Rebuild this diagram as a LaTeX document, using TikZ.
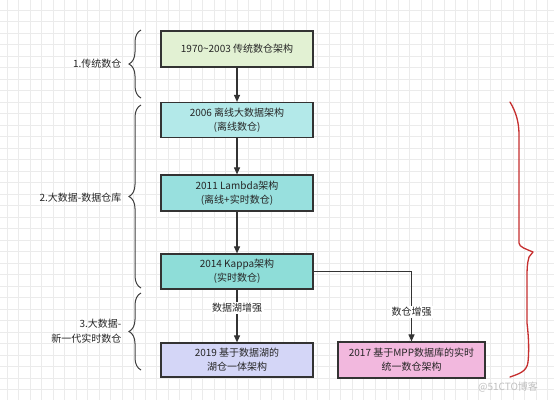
\documentclass[tikz,border=0pt]{standalone}
\usepackage{fontspec}
\setmainfont{Noto Sans CJK SC}
\usetikzlibrary{arrows.meta, decorations.pathreplacing}
\definecolor{gridgray}{HTML}{EBEBEB}
\definecolor{edgegray}{HTML}{333333}
\definecolor{boxgreen}{HTML}{E2F1D3}
\definecolor{boxteal}{HTML}{B3E9E9}
\definecolor{boxcyan}{HTML}{98E0DE}
\definecolor{boxaqua}{HTML}{8EDDD8}
\definecolor{boxlilac}{HTML}{D4D6F7}
\definecolor{boxpink}{HTML}{F2B8DE}
\definecolor{penred}{HTML}{C62F2F}

\begin{document}
\begin{tikzpicture}[x=1pt, y=-1pt,
    stage/.style={draw=edgegray, line width=1.2pt, minimum width=152pt, minimum height=35pt,
        align=center, font=\fontsize{10}{14}\selectfont, text=black!85},
    link/.style={draw=edgegray, line width=1.1pt, -{Triangle[width=6pt, length=7pt]}},
    tag/.style={fill=white, inner sep=1.5pt, font=\fontsize{10}{14}\selectfont, text=black!85},
    era/.style={draw=black!75, line width=1pt, decorate, decoration={brace, amplitude=12pt}},
    eralabel/.style={anchor=east, align=right, font=\fontsize{10}{15}\selectfont, text=black!85}]
    \useasboundingbox (0,0) rectangle (554,400);
    \fill[white] (0,0) rectangle (554,400);
    \foreach \gx in {0,...,47} \draw[gridgray, line width=0.6pt] (7+11.5*\gx,0) -- (7+11.5*\gx,400);
    \foreach \gy in {0,...,34} \draw[gridgray, line width=0.6pt] (0,10+11.5*\gy) -- (554,10+11.5*\gy);

    \node[stage, fill=boxgreen, minimum height=36pt] (0) at (237, 49) {1970\textasciitilde2003 传统数仓架构};
    \node[stage, fill=boxteal] (1) at (237, 120) {2006 离线大数据架构\\(离线数仓)};
    \node[stage, fill=boxcyan, minimum height=36pt] (2) at (237, 193) {2011 Lambda架构\\(离线+实时数仓)};
    \node[stage, fill=boxaqua] (3) at (237, 271.5) {2014 Kappa架构\\(实时数仓)};
    \node[stage, fill=boxlilac, minimum height=34pt] (4) at (237, 360) {2019 基于数据湖的\\湖仓一体架构};
    \node[stage, fill=boxpink, minimum width=147pt, minimum height=36pt] (5) at (411.5, 360) {2017 基于MPP数据库的实时\\统一数仓架构};

    \draw[link] (0) -- (1);
    \draw[link] (1) -- (2);
    \draw[link] (2) -- (3);
    \draw[link] (3) -- (4);
    \draw[link] (3.east) -| (5.north);
    \node[tag] (6) at (237, 308) {数据湖增强};
    \node[tag] (7) at (411.5, 312) {数仓增强};

    \draw[era] (141, 98) -- (141, 30);
    \draw[era] (141, 288) -- (141, 105);
    \draw[era] (141, 370) -- (141, 293);
    \node[eralabel] (8) at (125, 64) {1.传统数仓};
    \node[eralabel] (9) at (125, 198) {2.大数据-数据仓库};
    \node[eralabel] (10) at (125, 331) {3.大数据-\\新一代实时数仓};

    \draw[penred, line width=1.3pt, line cap=round, line join=round]
        (510,102) .. controls (516,112) and (519,122) .. (519,135) -- (519,243)
        .. controls (519,247) and (526,249) .. (533,252) -- (529,257)
        .. controls (527,264) and (527,270) .. (527,278) -- (527,323)
        .. controls (529,340) and (529,352) .. (528,362)
        .. controls (527,372) and (518,374) .. (510,377);

    \node[text=black!25, font=\fontsize{10}{12}\selectfont] (11) at (508, 387) {@51CTO博客};
\end{tikzpicture}
\end{document}
